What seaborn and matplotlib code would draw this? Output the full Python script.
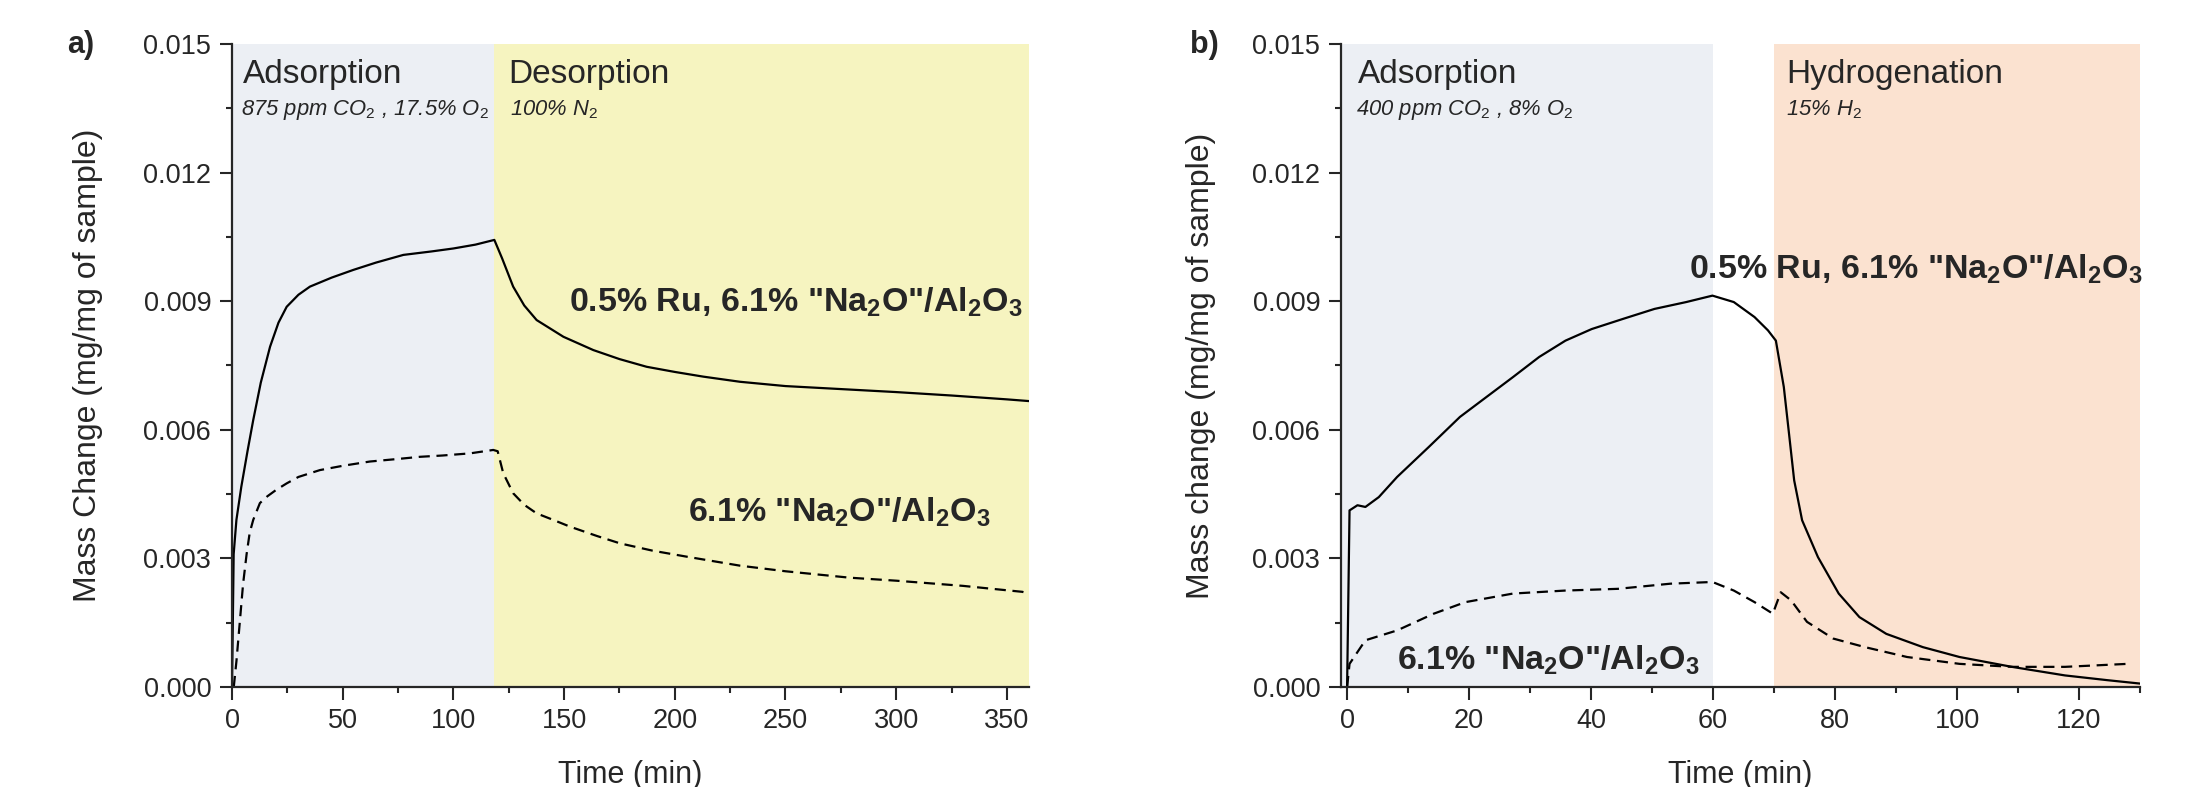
import numpy as np
import pandas as pd
import matplotlib
matplotlib.use("Agg")
import matplotlib.pyplot as plt
from matplotlib.ticker import MultipleLocator, FormatStrFormatter
import seaborn as sns

# ---- data ----
# panel a) adsorption / desorption, 875 ppm CO2
a_time_ru = [0, 0.3, 0.75, 2, 4.2, 7, 9.6, 13, 17.2, 21, 24.7, 30, 35.2, 45, 54.8, 65,
             77.4, 90, 100, 110, 118.5, 122, 127, 132, 137.6, 149.7, 163.2, 175, 187.3,
             200, 212.9, 229.5, 250, 275, 300, 325, 350, 360]
a_mass_ru = [0, 0.0012, 0.0031, 0.0039, 0.00467, 0.0055, 0.00623, 0.0071, 0.00794, 0.0085,
             0.00887, 0.00915, 0.00934, 0.00955, 0.00973, 0.0099, 0.01008, 0.01016, 0.01023,
             0.01032, 0.01043, 0.0100, 0.00934, 0.0089, 0.00856, 0.00817, 0.00786, 0.00765,
             0.00747, 0.00735, 0.00724, 0.00712, 0.00702, 0.00695, 0.00688, 0.0068, 0.00671,
             0.00667]
a_time_na = [0.8, 2, 3.6, 5, 6.6, 8, 9.6, 12.6, 16, 20, 24.7, 30, 39.7, 50, 62.3, 75, 84.9,
             95, 107.5, 118, 120, 122.5, 127, 132, 137.6, 145, 152.7, 165, 175.3, 190, 205.4,
             229.5, 250, 279, 300, 330, 357, 360]
a_mass_na = [0, 0.0006, 0.00156, 0.0024, 0.0031, 0.0036, 0.0039, 0.00429, 0.00445, 0.0046,
             0.00475, 0.0049, 0.00506, 0.00516, 0.00526, 0.00532, 0.00537, 0.0054, 0.00545,
             0.00553, 0.0055, 0.00499, 0.00452, 0.00425, 0.00405, 0.0039, 0.00374, 0.00352,
             0.00335, 0.00318, 0.00304, 0.00283, 0.0027, 0.00255, 0.00248, 0.00236, 0.00222,
             0.00218]

# panel b) adsorption / hydrogenation, 400 ppm CO2
b_time_ru = [0, 0.4, 1.7, 3, 5.2, 8.2, 13.4, 18.5, 22.8, 27.2, 31.5, 35.8, 40.1, 45.3, 50.4,
             55.6, 59.9, 63.4, 66.8, 69, 70.3, 71.6, 72.4, 73.3, 74.6, 77.2, 80.6, 84, 88.4,
             94.4, 100.4, 109, 117.7, 124.6, 130]
b_mass_ru = [0, 0.00412, 0.00424, 0.0042, 0.00443, 0.0049, 0.0056, 0.0063, 0.00676, 0.00723,
             0.0077, 0.00808, 0.00835, 0.00859, 0.00882, 0.00898, 0.00913, 0.00898, 0.00863,
             0.00832, 0.00808, 0.007, 0.00598, 0.00482, 0.00389, 0.00303, 0.00218, 0.00163,
             0.00124, 0.00093, 0.0007, 0.00047, 0.00027, 0.00016, 0.00008]
b_time_na = [0, 0.4, 3, 8.2, 14.2, 19.4, 27.2, 35.8, 44.4, 53, 59.9, 63.4, 66.8, 69.8, 71.1,
             72.8, 75.4, 79.7, 84.9, 91.8, 100.4, 109, 117.7, 128]
b_mass_na = [0, 0.00054, 0.00109, 0.00132, 0.00171, 0.00198, 0.00218, 0.00225, 0.00229,
             0.00241, 0.00245, 0.00225, 0.00198, 0.00171, 0.00221, 0.00202, 0.00152, 0.00113,
             0.00093, 0.0007, 0.00054, 0.00047, 0.00047, 0.00054]

label_ru = r'0.5% Ru, 6.1% "Na$_\mathbf{2}$O"/Al$_\mathbf{2}$O$_\mathbf{3}$'
label_na = r'6.1% "Na$_\mathbf{2}$O"/Al$_\mathbf{2}$O$_\mathbf{3}$'

# ---- style ----
sns.set_style("ticks")
plt.rcParams['font.family'] = ['Liberation Sans', 'DejaVu Sans']
plt.rcParams['mathtext.fontset'] = 'custom'
plt.rcParams['mathtext.rm'] = 'Liberation Sans'
plt.rcParams['mathtext.it'] = 'Liberation Sans:italic'
plt.rcParams['mathtext.bf'] = 'Liberation Sans:bold'

BLUE = '#ECEFF4'
YELLOW = '#F6F4C0'
ORANGE = '#FBE2D0'

fig = plt.figure(figsize=(22.11, 7.87), dpi=100)
ax_a = fig.add_axes([232 / 2211, 100 / 787, 797 / 2211, 643 / 787])
ax_b = fig.add_axes([1341 / 2211, 100 / 787, 799 / 2211, 643 / 787])

dash = (0, (5, 3))


def style_axis(ax, xmajor, xminor, ylabel, pad):
    ax.set_ylim(0, 0.015)
    ax.yaxis.set_major_locator(MultipleLocator(0.003))
    ax.yaxis.set_minor_locator(MultipleLocator(0.0015))
    ax.yaxis.set_major_formatter(FormatStrFormatter('%.3f'))
    ax.xaxis.set_major_locator(MultipleLocator(xmajor))
    ax.xaxis.set_minor_locator(MultipleLocator(xminor))
    ax.tick_params(which='major', length=9, width=1.5, labelsize=19.5, pad=6, direction='out')
    ax.tick_params(which='minor', length=4.5, width=1.5, direction='out')
    for s in ['top', 'right']:
        ax.spines[s].set_visible(False)
    for s in ['left', 'bottom']:
        ax.spines[s].set_linewidth(1.6)
    ax.set_xlabel('Time (min)', fontsize=22, labelpad=19)
    ax.set_ylabel(ylabel, fontsize=23, labelpad=pad)


# ---- panel a ----
df_a_ru = pd.DataFrame({'t': a_time_ru, 'm': a_mass_ru})
df_a_na = pd.DataFrame({'t': a_time_na, 'm': a_mass_na})
ax_a.axvspan(0, 118.3, color=BLUE, lw=0, zorder=0)
ax_a.axvspan(118.3, 360, color=YELLOW, lw=0, zorder=0)
sns.lineplot(data=df_a_ru, x='t', y='m', ax=ax_a, color='black', lw=1.6, estimator=None)
sns.lineplot(data=df_a_na, x='t', y='m', ax=ax_a, color='black', lw=1.6, estimator=None,
             linestyle=dash)
ax_a.set_xlim(0, 360)
style_axis(ax_a, 50, 25, 'Mass Change (mg/mg of sample)', 29)

ax_a.text(4.8, 0.01409, 'Adsorption', fontsize=24, va='baseline')
ax_a.text(3.9, 0.01334, r'875 ppm CO$_\mathit{2}$ , 17.5% O$_\mathit{2}$', fontsize=15.8,
          style='italic', va='baseline')
ax_a.text(124.7, 0.01409, 'Desorption', fontsize=24, va='baseline')
ax_a.text(125.6, 0.01334, r'100% N$_\mathit{2}$', fontsize=15.8, style='italic', va='baseline')
ax_a.text(152, 0.00898, label_ru, fontsize=24.5, fontweight='bold', va='center')
ax_a.text(206, 0.00408, label_na, fontsize=24.5, fontweight='bold', va='center')

# ---- panel b ----
df_b_ru = pd.DataFrame({'t': b_time_ru, 'm': b_mass_ru})
df_b_na = pd.DataFrame({'t': b_time_na, 'm': b_mass_na})
ax_b.axvspan(-1, 60, color=BLUE, lw=0, zorder=0)
ax_b.axvspan(70, 130, color=ORANGE, lw=0, zorder=0)
sns.lineplot(data=df_b_ru, x='t', y='m', ax=ax_b, color='black', lw=1.6, estimator=None)
sns.lineplot(data=df_b_na, x='t', y='m', ax=ax_b, color='black', lw=1.6, estimator=None,
             linestyle=dash)
ax_b.set_xlim(-1, 130)
style_axis(ax_b, 20, 10, 'Mass change (mg/mg of sample)', 26)

ax_b.text(1.7, 0.01409, 'Adsorption', fontsize=24, va='baseline')
ax_b.text(1.5, 0.01334, r'400 ppm CO$_\mathit{2}$ , 8% O$_\mathit{2}$', fontsize=15.8,
          style='italic', va='baseline')
ax_b.text(72, 0.01409, 'Hydrogenation', fontsize=24, va='baseline')
ax_b.text(72, 0.01334, r'15% H$_\mathit{2}$', fontsize=15.8, style='italic', va='baseline')
ax_b.text(56, 0.00975, label_ru, fontsize=24.5, fontweight='bold', va='center', clip_on=False)
ax_b.text(8.2, 0.00062, label_na, fontsize=24.5, fontweight='bold', va='center')

# panel letters
fig.text(67 / 2211, 1 - 30 / 787, 'a)', fontsize=22, fontweight='bold', va='top')
fig.text(1190 / 2211, 1 - 30 / 787, 'b)', fontsize=22, fontweight='bold', va='top')

fig.savefig('out.png', dpi=100)
